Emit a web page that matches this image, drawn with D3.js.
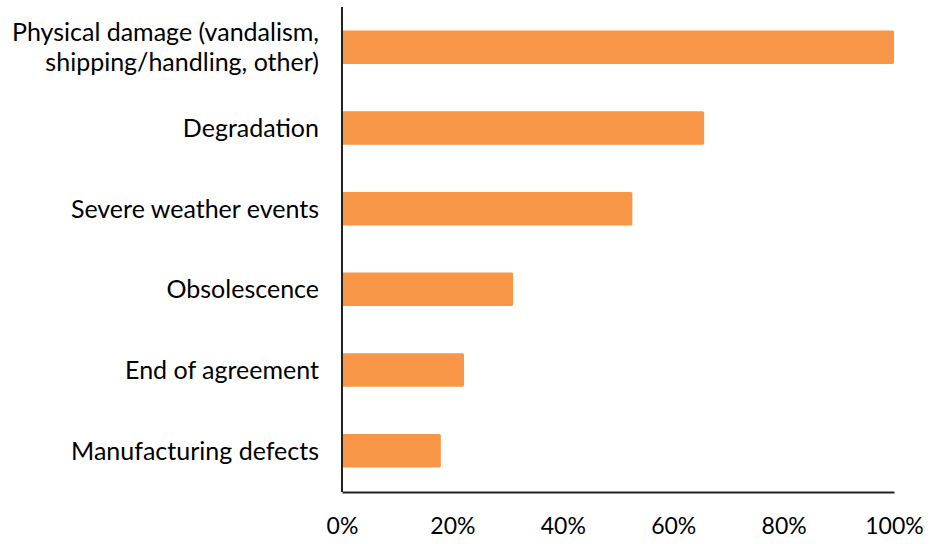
<!DOCTYPE html>
<html>
<head>
<meta charset="utf-8">
<script src="https://cdn.jsdelivr.net/npm/d3@7"></script>
<style>
  body { margin: 0; background: #fff; }
  text { font-family: Lato, "Open Sans", sans-serif; fill: #000; }
</style>
</head>
<body>
<svg></svg>
<script>
const width = 930;
const height = 544;

const categories = [
  "Physical damage (vandalism, shipping/handling, other)",
  "Degradation",
  "Severe weather events",
  "Obsolescence",
  "End of agreement",
  "Manufacturing defects"
];
const labelLines = [
  ["Physical damage (vandalism,", "shipping/handling, other)"],
  ["Degradation"],
  ["Severe weather events"],
  ["Obsolescence"],
  ["End of agreement"],
  ["Manufacturing defects"]
];
const values = [1.00, 0.656, 0.526, 0.31, 0.221, 0.179];
const tickValues = [0, 0.2, 0.4, 0.6, 0.8, 1.0];

const margin = {top: 7, right: 36, bottom: 53, left: 342};

const svg = d3.select('svg')
    .attr('width', width).attr('height', height);

const x = d3.scaleLinear()
    .domain([0, 1])
    .range([margin.left, width - margin.right]);

const y = d3.scaleBand()
    .domain(categories)
    .range([margin.top, height - margin.bottom])
    .paddingInner(0.585)
    .paddingOuter(0.29);

// bars
svg.append('g')
  .selectAll('rect')
  .data(values)
  .enter().append('rect')
    .attr('x', x(0))
    .attr('y', (d, i) => y(categories[i]))
    .attr('width', d => x(d) - x(0))
    .attr('height', y.bandwidth())
    .attr('rx', 1.5)
    .style('fill', '#F79646');

// category labels
const labels = svg.append('g')
  .selectAll('text')
  .data(labelLines)
  .enter().append('text')
    .attr('text-anchor', 'end')
    .attr('x', margin.left - 23)
    .attr('y', (d, i) => y(categories[i]) + y.bandwidth() / 2)
    .style('font-size', '25px');

labels.selectAll('tspan')
  .data(d => d.map((t, j) => ({t, j, n: d.length})))
  .enter().append('tspan')
    .attr('x', margin.left - 23)
    .attr('dy', d => d.j === 0 ? ((-(d.n - 1) * 30) / 2 + 9) + 'px' : '30px')
    .text(d => d.t);

// x axis
const xAxis = d3.axisBottom(x)
    .tickValues(tickValues)
    .tickFormat(d3.format('.0%'))
    .tickSize(0)
    .tickPadding(26);

const gx = svg.append('g')
    .attr('transform', `translate(0,${height - margin.bottom + 1})`)
    .call(xAxis);
gx.select('.domain').attr('stroke', '#222').attr('stroke-width', 2);
gx.selectAll('text').style('font-size', '23px').style('font-family', 'Lato, "Open Sans", sans-serif');

// y axis line
svg.append('line')
    .attr('x1', x(0)).attr('x2', x(0))
    .attr('y1', margin.top).attr('y2', height - margin.bottom + 1)
    .attr('stroke', '#222')
    .attr('stroke-width', 2);
</script>
</body>
</html>
